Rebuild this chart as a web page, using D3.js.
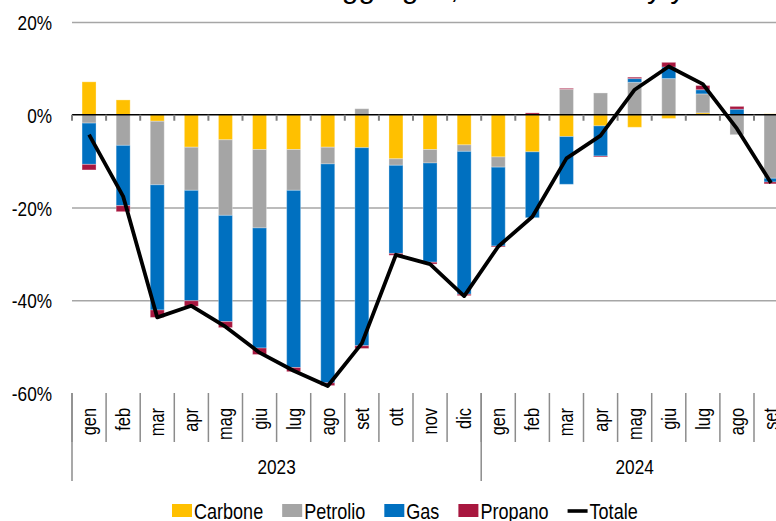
<!DOCTYPE html>
<html>
<head>
<meta charset="utf-8">
<script src="https://cdn.jsdelivr.net/npm/d3@7"></script>
<style>
  html, body { margin: 0; padding: 0; background: #fff; overflow: hidden; }
  svg { display: block; font-family: "Liberation Sans", Arial, sans-serif; }
</style>
</head>
<body>
<svg id="chart" width="776" height="521"></svg>
<script>
// Contributi per fonte alla variazione tendenziale (punti percentuali)
const months = ["gen","feb","mar","apr","mag","giu","lug","ago","set","ott","nov","dic",
                "gen","feb","mar","apr","mag","giu","lug","ago","set"];
const years = [{label: "2023", count: 12}, {label: "2024", count: 9}];

const carbone  = [ 7.1,  3.2, -1.4, -7.0, -5.4, -7.5, -7.5, -7.0, -7.1, -9.5, -7.5, -6.5,
                  -9.1, -8.0, -4.7, -2.4, -2.7, -0.8,  0.4,  0.0,  0.2];
const petrolio = [-1.8, -6.6,-13.7, -9.3,-16.3,-16.9, -8.8, -3.6,  1.3, -1.4, -2.9, -1.4,
                  -2.2,  0.0,  5.5,  4.7,  7.0,  7.8,  4.1, -4.3,-13.7];
const gas      = [-8.9,-13.0,-27.0,-23.8,-22.9,-25.9,-38.2,-47.2,-42.7,-19.0,-21.4,-30.8,
                 -17.0,-14.2,-10.3, -6.5,  0.8,  2.5,  0.9,  1.2, -0.8];
const propano  = [-1.2, -1.3, -1.6, -1.2, -1.3, -1.4, -0.9, -0.6, -0.6, -0.4, -0.4, -0.3,
                  -0.2,  0.4,  0.2, -0.2,  0.3,  1.0,  0.9,  0.6, -0.4];
const totale   = [-4.3,-17.6,-43.7,-41.2,-45.7,-51.3,-55.2,-58.5,-49.3,-30.2,-32.2,-39.1,
                 -28.4,-22.0, -9.4, -4.5,  5.4, 10.4,  6.6, -3.0,-14.7];

const yTicks = [20, 0, -20, -40, -60];
const seriesNames = ["Carbone", "Petrolio", "Gas", "Propano"];
const seriesColors = ["#FFC000", "#A5A5A5", "#0070C0", "#A8173F"];
const lineName = "Totale";

const svg = d3.select("#chart");
const NARROW = 0.82;          // horizontal squeeze for the condensed label face
const FONT = 21;

const plotLeft = 72, step = 34.1, plotTop = 22, plotBottom = 393;
const n = months.length;

const x = d3.scaleBand().domain(d3.range(n)).range([plotLeft, plotLeft + step * n]).padding(0);
const y = d3.scaleLinear().domain([-60, 20]).range([plotBottom, plotTop]);
const barW = x.bandwidth() * 0.41;

// Title (runs off the top edge)
svg.append("text")
  .attr("x", 115).attr("y", -2)
  .attr("font-size", 30).attr("fill", "#000")
  .text("Consumi fossili aggregati, variazione % y/y");

// Horizontal gridlines
const grid = svg.append("g").attr("transform", `translate(${plotLeft},0)`)
  .call(d3.axisLeft(y).tickValues([20, -20, -40]).tickSize(-(776 - plotLeft + 40)).tickFormat(""));
grid.select(".domain").remove();
grid.selectAll(".tick line").attr("stroke", "#a6a6a6").attr("stroke-width", 1.3);

// Y axis labels
const yAxis = svg.append("g").attr("transform", "translate(52,0)")
  .call(d3.axisLeft(y).tickValues(yTicks).tickSize(0).tickPadding(0).tickFormat(d => d + "%"));
yAxis.select(".domain").remove();
yAxis.selectAll(".tick text")
  .attr("font-size", FONT).attr("font-family", "Liberation Sans, Arial, sans-serif")
  .attr("fill", "#000").attr("x", 0).attr("dy", "0.36em")
  .attr("transform", `scale(${NARROW},1)`);

// Stacked bars
const rows = d3.range(n).map(i => ({
  Carbone: carbone[i], Petrolio: petrolio[i], Gas: gas[i], Propano: propano[i]
}));
const stacked = d3.stack().keys(seriesNames).offset(d3.stackOffsetDiverging)(rows);
const color = d3.scaleOrdinal().domain(seriesNames).range(seriesColors);

svg.append("g").selectAll("g")
  .data(stacked).join("g")
  .attr("fill", s => color(s.key))
  .selectAll("rect")
  .data(s => s.map((d, i) => ({d, i})))
  .join("rect")
  .attr("x", p => x(p.i) + (x.bandwidth() - barW) / 2)
  .attr("width", barW)
  .attr("y", p => y(Math.max(p.d[0], p.d[1])))
  .attr("height", p => Math.abs(y(p.d[0]) - y(p.d[1])))
  .attr("stroke", "#fff").attr("stroke-opacity", 0.3).attr("stroke-width", 1);

// Zero axis with tick marks at the category boundaries
const y0 = y(0);
svg.append("line")
  .attr("x1", plotLeft).attr("x2", 776 + 20).attr("y1", y0).attr("y2", y0)
  .attr("stroke", "#000").attr("stroke-width", 1.6);
svg.append("g").selectAll("line")
  .data(d3.range(n + 1)).join("line")
  .attr("x1", i => plotLeft + i * x.step()).attr("x2", i => plotLeft + i * x.step())
  .attr("y1", y0).attr("y2", y0 + 6)
  .attr("stroke", "#7f7f7f").attr("stroke-width", 2);

// Totale line
const line = d3.line()
  .x((d, i) => x(i) + x.bandwidth() / 2)
  .y(d => y(d));
svg.append("path")
  .datum(totale)
  .attr("d", line)
  .attr("fill", "none").attr("stroke", "#000")
  .attr("stroke-width", 3.8).attr("stroke-linejoin", "round");

// Month labels below the plot
const xAxis = svg.append("g").attr("transform", `translate(0,${plotBottom})`)
  .call(d3.axisBottom(x).tickSize(0).tickFormat(i => months[i]));
xAxis.select(".domain").remove();
xAxis.selectAll(".tick text")
  .attr("font-size", FONT - 1).attr("font-family", "Liberation Sans, Arial, sans-serif")
  .attr("fill", "#000").attr("text-anchor", "end")
  .attr("x", 0).attr("y", 0).attr("dy", "0.35em")
  .attr("transform", `translate(0,15) rotate(-90) scale(${NARROW},1)`);

// Month and year separators
svg.append("g").selectAll("line")
  .data(d3.range(n + 1)).join("line")
  .attr("x1", i => plotLeft + i * x.step()).attr("x2", i => plotLeft + i * x.step())
  .attr("y1", plotBottom).attr("y2", 442)
  .attr("stroke", "#8c8c8c").attr("stroke-width", 1.5);

let acc = 0;
const yearBounds = [0];
years.forEach(yr => { acc += yr.count; yearBounds.push(acc); });
svg.append("g").selectAll("line")
  .data(yearBounds).join("line")
  .attr("x1", i => plotLeft + i * x.step()).attr("x2", i => plotLeft + i * x.step())
  .attr("y1", plotBottom).attr("y2", 481)
  .attr("stroke", "#8c8c8c").attr("stroke-width", 1.5);

let start = 0;
years.forEach(yr => {
  const cx = plotLeft + (start + yr.count / 2) * x.step();
  svg.append("text")
    .attr("transform", `translate(${cx},474) scale(${NARROW},1)`)
    .attr("text-anchor", "middle")
    .attr("font-size", FONT).attr("fill", "#000")
    .text(yr.label);
  start += yr.count;
});

// Legend
const legendItems = seriesNames.map((s, i) => ({name: s, color: seriesColors[i], type: "box"}))
  .concat([{name: lineName, color: "#000", type: "line"}]);
const legend = svg.append("g");
const ly = 511;
let lx = 172;
legendItems.forEach(item => {
  if (item.type === "box") {
    legend.append("rect").attr("x", lx).attr("y", ly - 7).attr("width", 20).attr("height", 13)
      .attr("fill", item.color);
  } else {
    legend.append("line").attr("x1", lx).attr("x2", lx + 20).attr("y1", ly).attr("y2", ly)
      .attr("stroke", item.color).attr("stroke-width", 3.6);
  }
  const t = legend.append("text")
    .attr("transform", `translate(${lx + 22},${ly}) scale(${NARROW},1)`)
    .attr("dy", "0.36em")
    .attr("font-size", FONT + 1).attr("fill", "#000")
    .text(item.name);
  lx += 22 + t.node().getComputedTextLength() * NARROW + 19;
});
</script>
</body>
</html>
